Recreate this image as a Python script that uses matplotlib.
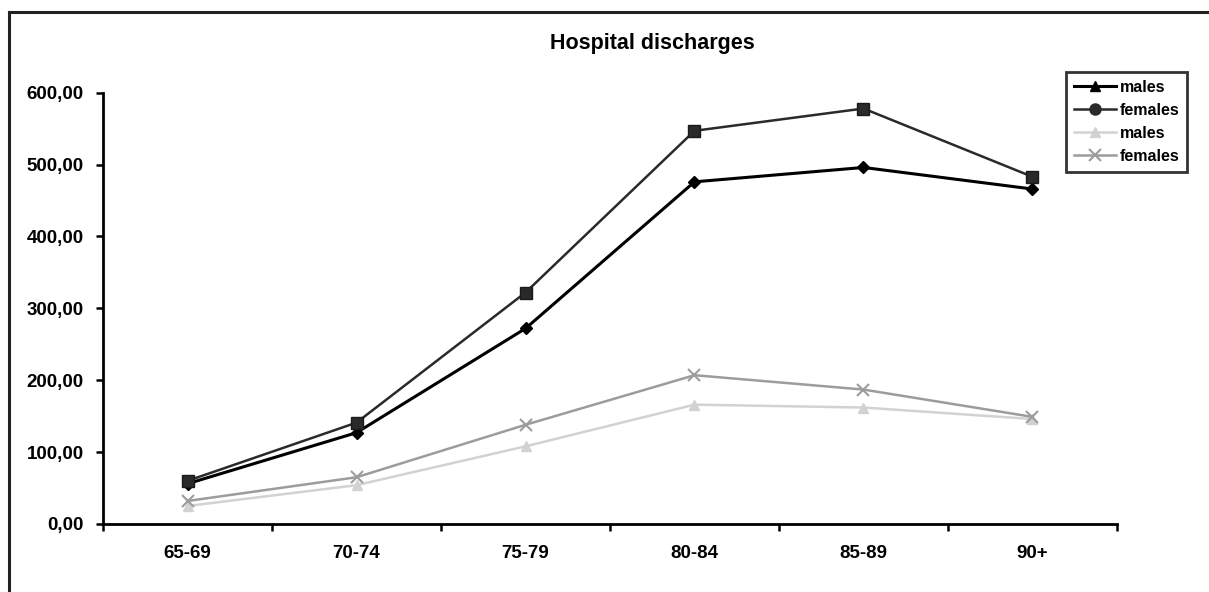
import matplotlib.pyplot as plt
from matplotlib.lines import Line2D

# age groups and discharge rates
age_groups = ['65-69', '70-74', '75-79', '80-84', '85-89', '90+']
males_dark = [56, 127, 272, 476, 496, 466]
females_dark = [60, 141, 322, 547, 578, 483]
males_light = [25, 54, 108, 166, 162, 146]
females_light = [32, 65, 138, 207, 187, 149]

plt.rcParams['font.family'] = ['Liberation Sans', 'DejaVu Sans']
plt.rcParams['font.weight'] = 'bold'

fig = plt.figure(figsize=(12.09, 5.92), dpi=100)
ax = fig.add_axes([0.0852, 0.1149, 0.8387, 0.7285])

x = list(range(len(age_groups)))

ax.plot(x, males_light, color='#d2d2d2', lw=1.8, marker='^', ms=7,
        mfc='#d2d2d2', mec='#d2d2d2', zorder=2)
ax.plot(x, females_light, color='#9c9c9c', lw=1.8, marker='x', ms=9,
        mew=1.5, zorder=3)
ax.plot(x, males_dark, color='#000000', lw=2.2, marker='D', ms=6.5,
        zorder=4)
ax.plot(x, females_dark, color='#2a2a2a', lw=1.8, marker='s', ms=8.5,
        mfc='#2a2a2a', mec='#1a1a1a', zorder=5)

ax.set_xlim(-0.5, len(age_groups) - 0.5)
ax.set_ylim(0, 600)

# category boundaries get the tick marks, labels sit in between
ax.set_xticks([i - 0.5 for i in range(len(age_groups) + 1)])
ax.set_xticklabels([])
ax.set_xticks(x, minor=True)
ax.set_xticklabels(age_groups, minor=True, fontsize=13.5, fontweight='bold')
ax.tick_params(axis='x', which='minor', length=0, pad=15)
ax.tick_params(axis='x', which='major', length=5, width=1.8, direction='out')

yt = [0, 100, 200, 300, 400, 500, 600]
ax.set_yticks(yt)
ax.set_yticklabels([f'{v:.2f}'.replace('.', ',') for v in yt],
                   fontsize=13.5, fontweight='bold')
ax.tick_params(axis='y', length=5, width=1.8, direction='out', pad=9)

for side in ('top', 'right'):
    ax.spines[side].set_visible(False)
for side in ('left', 'bottom'):
    ax.spines[side].set_linewidth(2.0)

fig.text(0.54, 1 - 43 / 592, 'Hospital discharges', ha='center', va='center',
         fontsize=15.5, fontweight='bold')

handles = [
    Line2D([], [], color='#000000', lw=2.2, marker='^', ms=7),
    Line2D([], [], color='#2a2a2a', lw=1.8, marker='o', ms=8),
    Line2D([], [], color='#d2d2d2', lw=1.8, marker='^', ms=7),
    Line2D([], [], color='#9c9c9c', lw=1.8, marker='x', ms=8, mew=1.5),
]
leg = fig.legend(handles, ['males', 'females', 'males', 'females'],
                 loc='upper left', bbox_to_anchor=(1066 / 1209, 1 - 72 / 592),
                 frameon=True, fancybox=False, edgecolor='black',
                 fontsize=11.5, handlelength=2.6, handletextpad=0.25,
                 labelspacing=0.5, borderpad=0.5, borderaxespad=0)
leg.get_frame().set_linewidth(2.0)
for t in leg.get_texts():
    t.set_fontweight('bold')

# outer frame: left and top edges only
fig.add_artist(Line2D([9 / 1209, 9 / 1209], [0, 1 - 12 / 592],
                      transform=fig.transFigure, color='#222222', lw=2.2))
fig.add_artist(Line2D([9 / 1209, 1], [1 - 12 / 592, 1 - 12 / 592],
                      transform=fig.transFigure, color='#222222', lw=2.2))

fig.savefig('out.png', dpi=100)
